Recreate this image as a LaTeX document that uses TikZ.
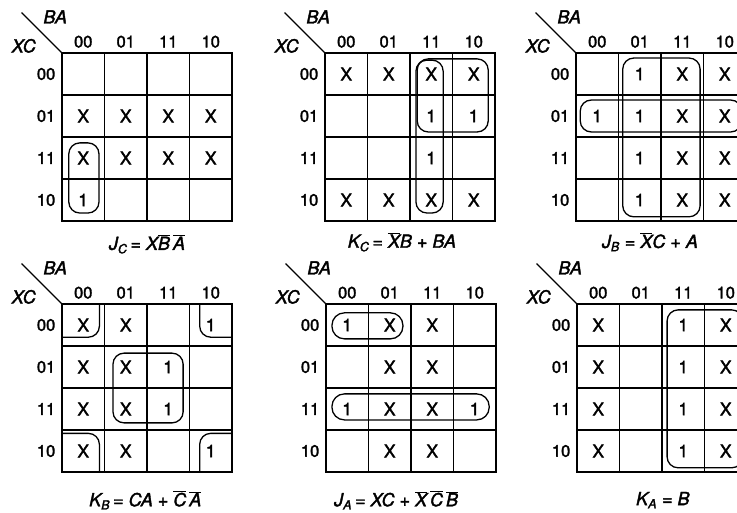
\documentclass[tikz,border=0pt]{standalone}
\usepackage{fontspec}
\setmainfont{TeX Gyre Heros}[FakeBold=2]
\usepackage{tikz}
\usetikzlibrary{calc}
\newcommand{\ob}[1]{$\overline{\mbox{#1}}$}
\tikzset{
  kcell/.style={x=42.5pt,y=-42pt},
  kgrid/.style={line width=1.6pt,line cap=rect},
  klab/.style={font=\fontsize{16.5pt}{18pt}\selectfont,inner sep=1pt},
  kvar/.style={font=\fontsize{18pt}{20pt}\selectfont\itshape,inner sep=1pt},
  kval/.style={font=\fontsize{17.5pt}{19pt}\selectfont,inner sep=1pt},
  kloop/.style={draw,line width=1.3pt,rounded corners=11pt},
  kcap/.style={font=\fontsize{18pt}{20pt}\selectfont\itshape,inner sep=1pt},
}
% grid, corner line and the 00 01 11 10 labels of one map
\newcommand{\kframe}[1]{%
  \foreach \i in {0,...,4}{
    \draw[kgrid] (\i,0) -- (\i,4);
    \draw[kgrid] (0,\i) -- (4,\i);}
  \draw[kgrid,line width=1.3pt] (-0.94,-0.95) -- (0,0);
  \node[kvar] (#1-ba) at (-0.16,-0.86) {BA};
  \node[kvar] (#1-xc) at (-0.9,-0.17) {XC};
  \foreach \g [count=\k from 0] in {00,01,11,10}{
    \node[klab] (#1-col\k) at (\k+0.5,-0.27) {\g};
    \node[klab,anchor=east] (#1-row\k) at (-0.13,\k+0.5) {\g};}}

\begin{document}
\begin{tikzpicture}
  \clip (0,0) rectangle (737pt,-512pt);
  % J_C
  \begin{scope}[shift={(62pt,-53pt)},kcell]
    \kframe{jc}
    \foreach \rw [count=\r from 0] in {{{},{},{},{}},{X,X,X,X},{X,X,X,X},{1,{},{},{}}}
      \foreach \v [count=\c from 0] in \rw
        \node[kval] (jc-\r\c) at (\c+0.5,\r+0.5) {\v};
    \draw[kloop] (0.16,2.14) rectangle (0.87,3.81);
    \node[kcap] (jc-cap) at (2.0,4.55) {J\textsubscript{C}\,= X\ob{B}\,\ob{A}};
  \end{scope}
  % K_C
  \begin{scope}[shift={(325pt,-53pt)},kcell]
    \kframe{kc}
    \foreach \rw [count=\r from 0] in {{X,X,X,X},{{},{},1,1},{{},{},1,{}},{X,X,X,X}}
      \foreach \v [count=\c from 0] in \rw
        \node[kval] (kc-\r\c) at (\c+0.5,\r+0.5) {\v};
    \draw[kloop] (2.14,0.17) rectangle (2.78,3.81);
    \draw[kloop] (2.17,0.14) rectangle (3.84,1.88);
    \node[kcap] (kc-cap) at (1.81,4.5) {K\textsubscript{C}\,= \ob{X}B + BA};
  \end{scope}
  % J_B
  \begin{scope}[shift={(576pt,-53pt)},kcell]
    \kframe{jb}
    \foreach \rw [count=\r from 0] in {{{},1,X,X},{1,1,X,X},{{},1,X,X},{{},1,X,X}}
      \foreach \v [count=\c from 0] in \rw
        \node[kval] (jb-\r\c) at (\c+0.5,\r+0.5) {\v};
    \draw[kloop] (1.1,0.12) rectangle (2.92,3.9);
    \draw[kloop] (0.1,1.12) rectangle (3.9,1.88);
    \node[kcap] (jb-cap) at (1.74,4.5) {J\textsubscript{B} = \ob{X}C + A};
  \end{scope}
  % K_B
  \begin{scope}[shift={(62pt,-304pt)},kcell]
    \kframe{kb}
    \foreach \rw [count=\r from 0] in {{X,X,{},1},{X,X,1,{}},{X,X,1,{}},{X,X,{},1}}
      \foreach \v [count=\c from 0] in \rw
        \node[kval] (kb-\r\c) at (\c+0.5,\r+0.5) {\v};
    \draw[kloop] (1.2,1.17) rectangle (2.85,2.83);
    \draw[kloop] (0.88,0) -- (0.88,0.79) -- (0,0.79);
    \draw[kloop] (3.24,0) -- (3.24,0.79) -- (4,0.79);
    \draw[kloop] (0,3.08) -- (0.88,3.08) -- (0.88,4);
    \draw[kloop] (4,3.08) -- (3.24,3.08) -- (3.24,4);
    \node[kcap] (kb-cap) at (1.96,4.67) {K\textsubscript{B}\,= CA + \ob{C}\,\ob{A}};
  \end{scope}
  % J_A
  \begin{scope}[shift={(326pt,-304pt)},kcell]
    \kframe{ja}
    \foreach \rw [count=\r from 0] in {{1,X,X,{}},{{},X,X,{}},{1,X,X,1},{{},X,X,{}}}
      \foreach \v [count=\c from 0] in \rw
        \node[kval] (ja-\r\c) at (\c+0.5,\r+0.5) {\v};
    \draw[kloop,rounded corners=12.5pt] (0.14,0.21) rectangle (1.81,0.83);
    \draw[kloop,rounded corners=12.5pt] (0.14,2.14) rectangle (3.84,2.76);
    \node[kcap] (ja-cap) at (1.65,4.67) {J\textsubscript{A}\,= XC + \ob{X}\,\ob{C}\,\ob{B}};
  \end{scope}
  % K_A
  \begin{scope}[shift={(577pt,-304pt)},kcell]
    \kframe{ka}
    \foreach \rw [count=\r from 0] in {{X,{},1,X},{X,{},1,X},{X,{},1,X},{X,{},1,X}}
      \foreach \v [count=\c from 0] in \rw
        \node[kval] (ka-\r\c) at (\c+0.5,\r+0.5) {\v};
    \draw[kloop] (2.12,0.14) rectangle (3.9,3.9);
    \node[kcap] (ka-cap) at (2.02,4.67) {K\textsubscript{A} = B};
  \end{scope}
\end{tikzpicture}
\end{document}
